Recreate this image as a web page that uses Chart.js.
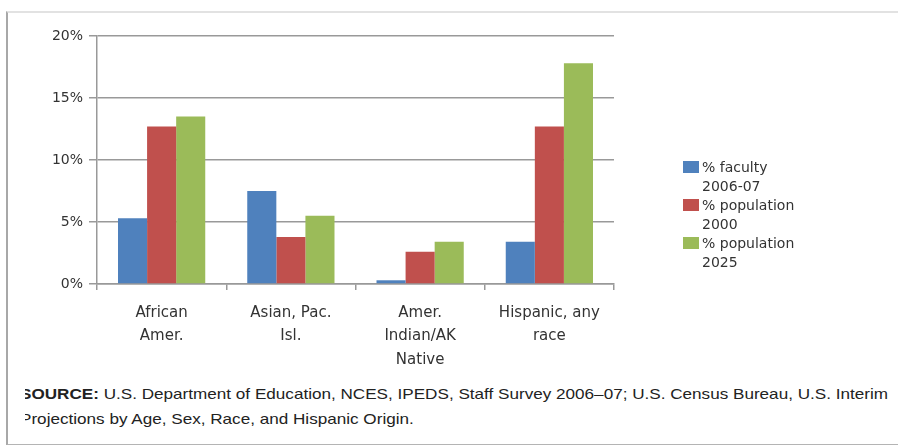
<!DOCTYPE html>
<html>
<head>
<meta charset="utf-8">
<script src="https://cdn.jsdelivr.net/npm/chart.js@4/dist/chart.umd.min.js"></script>
<style>
  body { margin: 0; background: #fff; }
  #wrap { position: relative; width: 898px; height: 445px; overflow: hidden; background: #fff; }
  #frame {
    position: absolute; left: 6px; top: 11px; width: 900px; height: 431px;
    border-top: 2px solid #e2e2e2; border-left: 2px solid #a8a8a8; border-bottom: 2px solid #b4b4b4;
  }
  #chartBox { position: absolute; left: 0; top: 0; width: 898px; height: 375px; }
  #legend {
    position: absolute; left: 683px; top: 158px;
    font: 14px "DejaVu Sans", sans-serif; color: #333;
  }
  .item { display: flex; align-items: flex-start; line-height: 19px; }
  .swatch { width: 16px; height: 12px; margin-top: 3px; margin-right: 3px; flex: none; }
  #source {
    position: absolute; left: 25px; top: 381px; width: 870px; overflow: hidden;
    font: 15px "Liberation Sans Narrow", "Liberation Sans", sans-serif; color: #222; line-height: 25px;
  }
  #source div { margin-left: -5px; white-space: nowrap; width: max-content; transform-origin: left center; }
</style>
</head>
<body>
<div id="wrap">
  <div id="frame"></div>
  <div id="chartBox"><canvas id="c"></canvas></div>
  <div id="legend"></div>
  <div id="source">
    <div id="src1"><b>SOURCE:</b> U.S. Department of Education, NCES, IPEDS, Staff Survey 2006–07; U.S. Census Bureau, U.S. Interim</div>
    <div id="src2">Projections by Age, Sex, Race, and Hispanic Origin.</div>
  </div>
</div>
<script>
const categories = [
  ["African", "Amer."],
  ["Asian, Pac.", "Isl."],
  ["Amer.", "Indian/AK", "Native"],
  ["Hispanic, any", "race"],
];
const seriesNames = [
  ["% faculty", "2006-07"],
  ["% population", "2000"],
  ["% population", "2025"],
];
const seriesColors = ["#4F81BD", "#C0504D", "#9BBB59"];
const facultyPct = [5.3, 7.5, 0.3, 3.4];
const population2000 = [12.7, 3.8, 2.6, 12.7];
const population2025 = [13.5, 5.5, 3.4, 17.8];
const yTicks = [0, 5, 10, 15, 20];

const seriesValues = [facultyPct, population2000, population2025];
const gridColor = "#999";
const textColor = "#333";

new Chart(document.getElementById("c"), {
  type: "bar",
  data: {
    labels: categories,
    datasets: seriesValues.map((vals, i) => ({
      label: seriesNames[i].join(" "),
      data: vals,
      backgroundColor: seriesColors[i],
      barPercentage: 1,
      categoryPercentage: 0.675,
    })),
  },
  options: {
    responsive: true,
    maintainAspectRatio: false,
    animation: false,
    layout: { padding: { left: 0, top: 36, right: 284, bottom: 0 } },
    plugins: { legend: { display: false }, tooltip: { enabled: false } },
    scales: {
      x: {
        afterFit: (axis) => { axis.height = 91; },
        grid: { display: true, drawOnChartArea: false, color: gridColor, lineWidth: 1.5, tickLength: 6, offset: true },
        border: { color: gridColor, width: 1.5 },
        ticks: { color: textColor, font: { family: "DejaVu Sans", size: 15, lineHeight: 1.57 }, padding: 11, maxRotation: 0, autoSkip: false },
      },
      y: {
        min: 0,
        max: 20,
        afterFit: (axis) => { axis.width = 97; },
        afterBuildTicks: (axis) => { axis.ticks = yTicks.map((v) => ({ value: v })); },
        grid: { color: gridColor, lineWidth: 1.5, tickLength: 8 },
        border: { color: gridColor, width: 1.5 },
        ticks: { color: textColor, font: { family: "DejaVu Sans", size: 14 }, padding: 6, callback: (v) => v + "%" },
      },
    },
  },
});

// legend drawn as html so the labels can wrap onto two lines
const legend = document.getElementById("legend");
seriesNames.forEach((name, i) => {
  const item = document.createElement("div");
  item.className = "item";
  item.innerHTML = `<span class="swatch" style="background:${seriesColors[i]}"></span><span>${name[0]}<br>${name[1]}</span>`;
  legend.appendChild(item);
});

// stretch the source lines to the width they have in the picture
const src1 = document.getElementById("src1");
const k = 868 / src1.getBoundingClientRect().width;
src1.style.transform = `scaleX(${k})`;
document.getElementById("src2").style.transform = `scaleX(${k})`;
</script>
</body>
</html>
